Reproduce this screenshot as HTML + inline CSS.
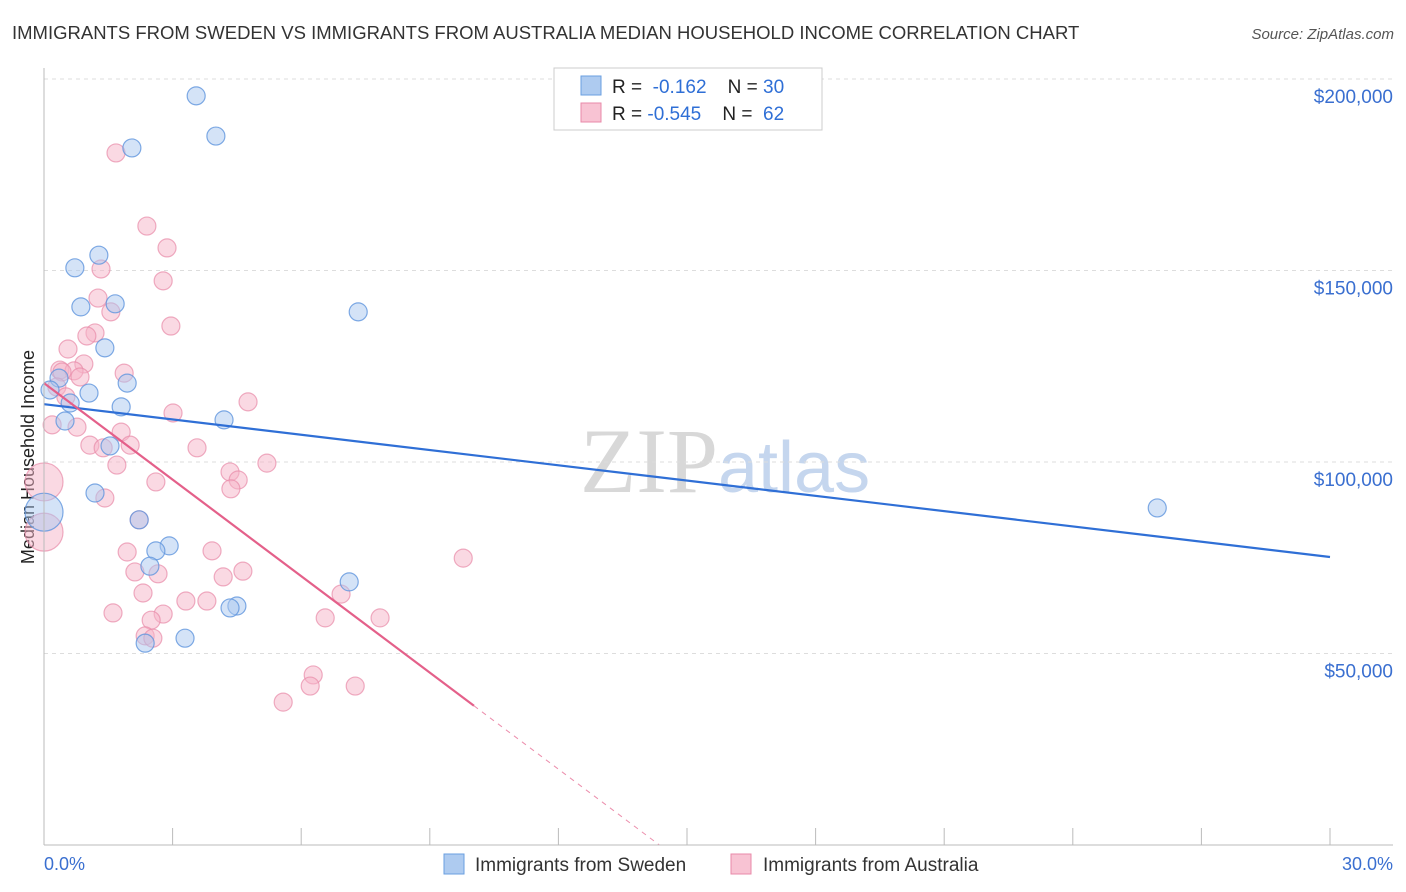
<!DOCTYPE html>
<html><head><meta charset="utf-8"><style>
body{margin:0;background:#fff;font-family:"Liberation Sans",sans-serif}
#wrap{position:relative;width:1406px;height:892px;overflow:hidden}
</style></head><body>
<div id="wrap">
<svg id="chart" width="1406" height="892" xmlns="http://www.w3.org/2000/svg">
<text x="12" y="39" font-size="18.5" fill="#333">IMMIGRANTS FROM SWEDEN VS IMMIGRANTS FROM AUSTRALIA MEDIAN HOUSEHOLD INCOME CORRELATION CHART</text>
<text x="1394" y="39" font-size="15" fill="#555" font-style="italic" text-anchor="end">Source: ZipAtlas.com</text>
<text x="718" y="492" font-size="92" fill="#d8d8d8" font-family="Liberation Serif, serif" text-anchor="end">ZIP</text>
<text x="718" y="492" font-size="72" fill="#c5d6ee">atlas</text>
<text transform="translate(34,457) rotate(-90)" font-size="18" fill="#222" text-anchor="middle">Median Household Income</text>
<g id="grid"></g><g id="pts"></g><g id="lines"></g>
<line x1="44" y1="68" x2="44" y2="845" stroke="#bbb"/>
<line x1="44" y1="845" x2="1393" y2="845" stroke="#bbb"/>
<text x="44" y="870" font-size="18" fill="#3a6fd0">0.0%</text>
<text x="1393" y="870" font-size="18" fill="#3a6fd0" text-anchor="end">30.0%</text>
<g>
<rect x="554" y="68" width="268" height="62" fill="#fff" stroke="#ccc"/>
<rect x="581" y="76" width="20" height="19" fill="#aecbf0" stroke="#6a9fe0"/>
<rect x="581" y="103" width="20" height="19" fill="#f8c3d3" stroke="#e88aa8"/>
<text x="612" y="93" font-size="19" fill="#222">R = <tspan fill="#2f6fd6">&#160;-0.162</tspan>&#160;&#160;&#160; N = <tspan fill="#2f6fd6">30</tspan></text>
<text x="612" y="120" font-size="19" fill="#222">R = <tspan fill="#2f6fd6">-0.545</tspan>&#160;&#160;&#160; N = <tspan fill="#2f6fd6">&#160;62</tspan></text>
</g>
<g>
<rect x="444" y="854" width="20" height="20" fill="#aecbf0" stroke="#6a9fe0"/>
<text x="475" y="871" font-size="19" fill="#333">Immigrants from Sweden</text>
<rect x="731" y="854" width="20" height="20" fill="#f8c3d3" stroke="#e88aa8"/>
<text x="763" y="871" font-size="19" fill="#333">Immigrants from Australia</text>
</g>
</svg></div>
<script>
const yTicks=[50000,100000,150000,200000];
const yTickLabels=["$50,000","$100,000","$150,000","$200,000"];
const xTicks=[0,3,6,9,12,15,18,21,24,27,30];
const swedenX=[3.55,4.01,2.05,1.28,0.72,0.86,1.66,7.33,1.42,0.35,1.94,1.05,0.61,1.80,0.49,4.20,1.54,1.19,2.22,0,2.92,2.61,2.47,7.12,4.50,4.34,3.29,2.36,25.97,0.14];
const swedenY=[195.6,185.1,182.0,154.0,150.7,140.5,141.3,139.2,129.8,121.9,120.6,118.0,115.4,114.4,110.7,111.0,104.2,91.9,84.9,86.9,78.1,76.8,72.8,68.7,62.4,61.9,54.0,52.7,88.0,118.8];
const swedenBig=[19];
const ausX=[1.68,2.40,2.87,1.33,2.78,1.26,1.56,2.96,1.19,1.00,0.56,0.93,0.37,0.70,0.42,0.84,1.87,0.30,4.76,0.51,3.01,0.19,0.77,1.07,1.80,1.38,2.01,3.57,1.70,5.20,4.34,4.53,4.36,0,1.42,2.61,0,1.94,3.92,9.78,2.12,4.64,2.66,4.18,2.31,6.93,3.31,3.80,1.61,2.78,2.50,6.56,7.84,2.36,2.54,6.28,6.21,7.26,5.58,2.22];
const ausY=[180.7,161.6,155.9,150.4,147.3,142.8,139.2,135.5,133.7,132.9,129.5,125.6,124.0,123.8,123.5,122.2,123.2,119.6,115.7,117.0,112.8,109.7,109.1,104.4,107.8,103.7,104.4,103.7,99.2,99.7,97.4,95.3,93.0,94.8,90.6,94.8,81.7,76.5,76.8,74.9,71.3,71.5,70.8,70.0,65.8,65.5,63.7,63.7,60.6,60.3,58.7,59.3,59.3,54.6,54.0,44.4,41.5,41.5,37.3,84.9];
const ausBig=[33,36];
const swedenTrend=[115.1,75.2];
const ausTrend=[120.6,-8.4];
const X=v=>44+v/30*1286;
const Y=v=>845-v/50000*191.5;
const NS="http://www.w3.org/2000/svg";
function mk(t,a,p){const e=document.createElementNS(NS,t);for(const k in a)e.setAttribute(k,a[k]);p.appendChild(e);return e;}
const grid=document.getElementById('grid');
yTicks.forEach((v,i)=>{
 const l=mk('line',{x1:44,x2:1393,y1:Y(v),y2:Y(v),stroke:'#ddd','stroke-dasharray':'4,4'},grid);
 
 
 const t=mk('text',{x:1393,y:Y(v)+24,'font-size':19,fill:'#3a6fd0','text-anchor':'end'},grid);
 t.textContent=yTickLabels[i];
 
 
});
const tl=mk('line',{x1:44,x2:1393,y1:79,y2:79,stroke:'#ddd','stroke-dasharray':'4,4'},grid);


xTicks.forEach(v=>{
 const l=mk('line',{x1:X(v),x2:X(v),y1:828,y2:845,stroke:'#bbb'},grid);
 
 
});
const pts=document.getElementById('pts');
ausX.forEach((x,i)=>{
 const c=mk('circle',{cx:X(x),cy:Y(ausY[i]*1000),r:ausBig.includes(i)?19:9,fill:'#f5b3c8','fill-opacity':0.5,stroke:'#e88aa8','stroke-opacity':0.7,'stroke-width':1.2},pts);
 
 
});
swedenX.forEach((x,i)=>{
 const c=mk('circle',{cx:X(x),cy:Y(swedenY[i]*1000),r:swedenBig.includes(i)?19:9,fill:'#a9c8f0','fill-opacity':0.5,stroke:'#5f95dd','stroke-opacity':0.8,'stroke-width':1.2},pts);
 
 
});
const lines=document.getElementById('lines');
const bl=mk('line',{x1:X(0),y1:Y(swedenTrend[0]*1000),x2:X(30),y2:Y(swedenTrend[1]*1000),stroke:'#2f6fd6','stroke-width':2.2},lines);


const pEnd=10.03, pZero=-ausTrend[0]/ausTrend[1];
const pl=mk('line',{x1:X(0),y1:Y(ausTrend[0]*1000),x2:X(pEnd),y2:Y((ausTrend[0]+ausTrend[1]*pEnd)*1000),stroke:'#e4608a','stroke-width':2.2},lines);


const pd=mk('line',{x1:X(pEnd),y1:Y((ausTrend[0]+ausTrend[1]*pEnd)*1000),x2:X(pZero),y2:Y(0),stroke:'#e4608a','stroke-width':1,'stroke-dasharray':'5,5','stroke-opacity':0.7},lines);


</script>
</body></html>
